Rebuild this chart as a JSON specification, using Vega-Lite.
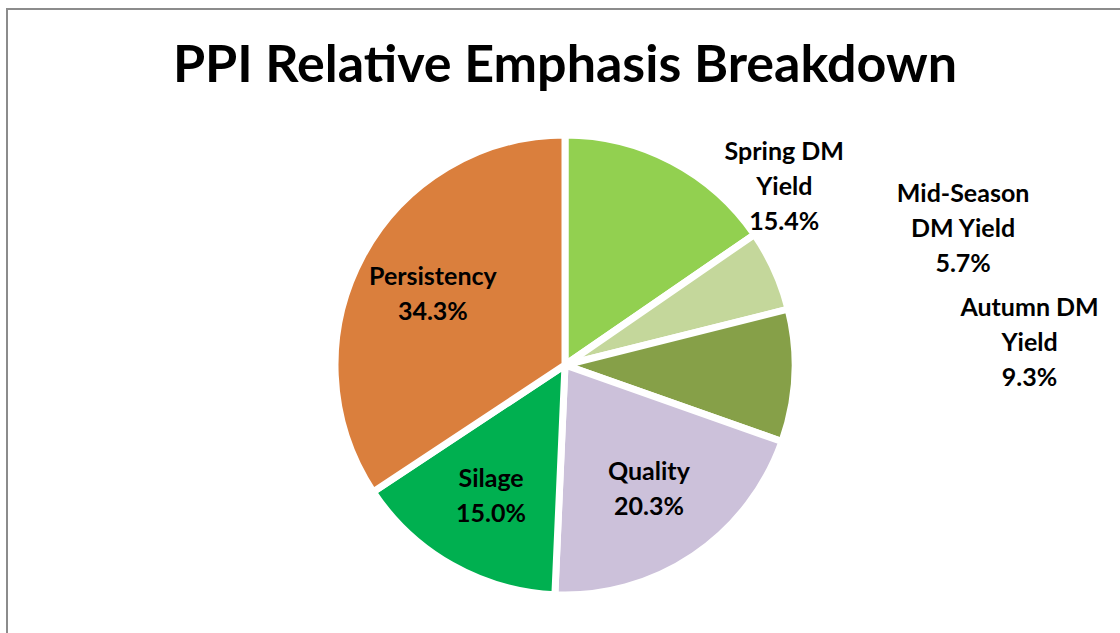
{
  "$schema": "https://vega.github.io/schema/vega-lite/v6.json",
  "width": 1116,
  "height": 712,
  "autosize": {"type": "none"},
  "padding": {"left": 7, "top": 9, "right": -3, "bottom": -88},
  "background": "white",
  "config": {"view": {"stroke": "#8c8c8c", "strokeWidth": 2}, "font": "Lato"},
  "title": {
    "text": "PPI Relative Emphasis Breakdown",
    "font": "Lato",
    "fontSize": 52,
    "fontWeight": "bold",
    "color": "#000000",
    "anchor": "middle",
    "frame": "group",
    "offset": -81,
    "dy": 98
  },
  "data": {
    "values": [
      {"order": 1, "category": "Spring DM Yield", "value": 15.4, "label": "Spring DM\nYield\n15.4%"},
      {"order": 2, "category": "Mid-Season DM Yield", "value": 5.7, "label": "Mid-Season\nDM Yield\n5.7%"},
      {"order": 3, "category": "Autumn DM Yield", "value": 9.3, "label": "Autumn DM\nYield\n9.3%"},
      {"order": 4, "category": "Quality", "value": 20.3, "label": "Quality\n20.3%"},
      {"order": 5, "category": "Silage", "value": 15.0, "label": "Silage\n15.0%"},
      {"order": 6, "category": "Persistency", "value": 34.3, "label": "Persistency\n34.3%"}
    ]
  },
  "layer": [
    {
      "mark": {"type": "point", "opacity": 0},
      "encoding": {
        "x": {"field": "order", "type": "ordinal", "axis": null}
      }
    },
    {
      "mark": {"type": "arc", "outerRadius": 230, "stroke": "white", "strokeWidth": 7},
      "encoding": {
        "theta": {"field": "value", "type": "quantitative", "stack": true},
        "order": {"field": "order", "type": "quantitative"},
        "color": {
          "field": "category",
          "type": "nominal",
          "scale": {
            "domain": ["Spring DM Yield", "Mid-Season DM Yield", "Autumn DM Yield", "Quality", "Silage", "Persistency"],
            "range": ["#92d050", "#c4d79b", "#86a048", "#ccc1da", "#00b050", "#da7f3d"]
          },
          "legend": null
        }
      }
    },
    {
      "mark": {"type": "text", "radius": 150, "dy": -17, "fontSize": 25, "fontWeight": "bold", "lineHeight": 35, "lineBreak": "\n", "color": "#000000", "align": "center", "baseline": "middle"},
      "encoding": {
        "theta": {"field": "value", "type": "quantitative", "stack": true},
        "order": {"field": "order", "type": "quantitative"},
        "text": {"condition": {"test": "datum.order >= 4", "field": "label"}, "value": ""}
      }
    },
    {
      "mark": {"type": "text", "radius": 235, "dx": 110, "dy": -5, "fontSize": 25, "fontWeight": "bold", "lineHeight": 35, "lineBreak": "\n", "color": "#000000", "align": "center", "baseline": "middle"},
      "encoding": {
        "theta": {"field": "value", "type": "quantitative", "stack": true},
        "order": {"field": "order", "type": "quantitative"},
        "text": {"condition": {"test": "datum.order == 1", "field": "label"}, "value": ""}
      }
    },
    {
      "mark": {"type": "text", "radius": 360, "dx": 70, "dy": -23, "fontSize": 25, "fontWeight": "bold", "lineHeight": 35, "lineBreak": "\n", "color": "#000000", "align": "center", "baseline": "middle"},
      "encoding": {
        "theta": {"field": "value", "type": "quantitative", "stack": true},
        "order": {"field": "order", "type": "quantitative"},
        "text": {"condition": {"test": "datum.order == 2", "field": "label"}, "value": ""}
      }
    },
    {
      "mark": {"type": "text", "radius": 410, "dx": 55, "dy": -76, "fontSize": 25, "fontWeight": "bold", "lineHeight": 35, "lineBreak": "\n", "color": "#000000", "align": "center", "baseline": "middle"},
      "encoding": {
        "theta": {"field": "value", "type": "quantitative", "stack": true},
        "order": {"field": "order", "type": "quantitative"},
        "text": {"condition": {"test": "datum.order == 3", "field": "label"}, "value": ""}
      }
    }
  ]
}
